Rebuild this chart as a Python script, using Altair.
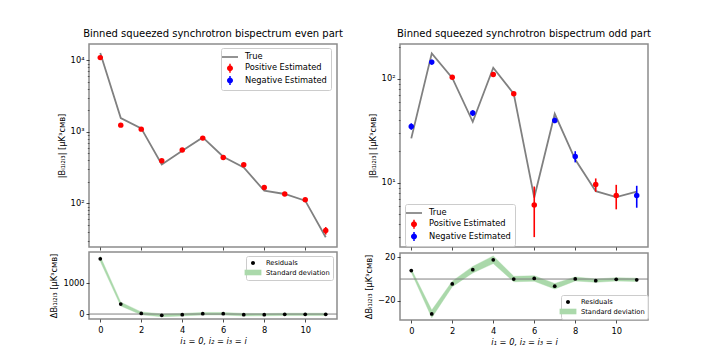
import altair as alt
import pandas as pd

# ---------------- data ----------------
idx = list(range(12))

# even part (all estimates positive)
true_even = [12650, 1560, 1115, 350, 545, 834, 448, 318, 150, 135, 109, 33.6]
est_even = [10900, 1240, 1090, 393, 555, 816, 438, 346, 167, 135, 112, 41.6]
err_even = [500, 60, 45, 15, 20, 25, 15, 12, 8, 6, 6, 5]
sign_even = ["pos"] * 12
res_even = [1780, 322, 21, -40, -20, 11, 11, -20, -20, -10, -10, -10]
std_even = [80, 60, 45, 45, 40, 40, 40, 40, 35, 35, 35, 35]

# odd part (absolute values, sign of the estimate)
true_odd = [26.7, 175.5, 102, 38.6, 127.6, 71.7, 7.2, 46, 16.7, 8.3, 7.28, 8.2]
est_odd = [34.8, 144.6, 103.5, 46.8, 110, 71.7, 6.1, 39.8, 17.9, 9.6, 7.55, 7.55]
err_odd = [2.5, 8, 4, 3, 5, 3, 3.1, 2.5, 2.2, 1.4, 2.0, 1.8]
sign_odd = ["neg", "neg", "pos", "neg", "pos", "pos", "pos", "neg", "neg", "pos", "pos", "neg"]
res_odd = [7.8, -32, -4.5, 8.6, 17.7, 0, 0.5, -6.6, 0.1, -1.5, -0.3, -0.7]
std_odd = [1.5, 3.5, 2.5, 3, 3.5, 2.5, 2.5, 2.5, 1.8, 1.5, 1.5, 1.5]

top_legend_labels = ["True", "Positive Estimated", "Negative Estimated"]
bot_legend_labels = ["Residuals", "Standard deviation"]

# ---------------- styling ----------------
FONT = "DejaVu Sans"
GRAY = "#808080"
GREEN = "#2ca02c"
GREEN_LIGHT = "#abd9ab"
X_DOMAIN = [-0.55, 11.55]
X_TICKS = [0, 2, 4, 6, 8, 10]
W = 248
H_TOP = 203
H_BOT = 67

SUP = {"0": "⁰", "1": "¹", "2": "²", "3": "³", "4": "⁴", "5": "⁵"}

# top legend shapes (symbolSize 100 -> unit = 5px)
LINE_PATH = "M-1.6,-0.17H1.6V0.17H-1.6Z"
ERRPT_PATH = ("M-0.6,0A0.6,0.6,0,1,1,0.6,0A0.6,0.6,0,1,1,-0.6,0Z"
              "M-0.15,-0.9H0.15V0.9H-0.15Z")
# bottom legend shapes (symbolSize 64 -> unit = 4px)
DOT_PATH = "M-0.5,0A0.5,0.5,0,1,1,0.5,0A0.5,0.5,0,1,1,-0.5,0Z"
RECT_PATH = "M-2.1,-0.7H2.1V0.7H-2.1Z"


def log_label_expr(values):
    parts = []
    for v in values:
        e = len(str(int(v))) - 1
        parts.append(f"datum.value == {v} ? '10{SUP[str(e)]}'")
    return " : ".join(parts) + " : ''"


def major_test(values):
    return " || ".join(f"datum.value == {v}" for v in values)


def legend_props(x, y, fs, rowpad, size, loff, pad):
    return dict(orient="none", legendX=x, legendY=y, title=None,
                labelFont=FONT, labelFontSize=fs, labelColor="black",
                fillColor="rgba(255,255,255,0.8)", strokeColor="#cccccc",
                cornerRadius=2, padding=pad, rowPadding=rowpad,
                symbolSize=size, symbolStrokeWidth=0, labelOffset=loff,
                symbolOpacity=1)


def top_panel(title, true_vals, est_vals, errs, signs, ydom, major, minor,
              lx, ly):
    df = pd.DataFrame({"i": idx, "true": true_vals, "est": est_vals,
                       "err": errs, "sign": signs})
    df["lo"] = df["est"] - df["err"]
    df["hi"] = df["est"] + df["err"]
    xscale = alt.Scale(domain=X_DOMAIN, nice=False, zero=False)
    yscale = alt.Scale(type="log", domain=ydom, nice=False)
    xaxis = alt.Axis(values=X_TICKS, labels=False, title=None, tickSize=3,
                     grid=False, domain=False)
    test = major_test(major)
    yaxis = alt.Axis(values=sorted(major + minor),
                     labelExpr=log_label_expr(major),
                     title="|Bᵢ₁ᵢ₂ᵢ₃| [μK³ᴄᴍʙ]", orient="left",
                     tickSize={"condition": {"test": test, "value": 3},
                               "value": 1.7},
                     tickWidth={"condition": {"test": test, "value": 0.7},
                                "value": 0.5},
                     grid=False, domain=False, labelPadding=2)
    base = alt.Chart(df)
    line = base.mark_line(color=GRAY, strokeWidth=1.8).encode(
        x=alt.X("i:Q", scale=xscale, axis=xaxis),
        y=alt.Y("true:Q", scale=yscale, axis=yaxis),
    )
    col = alt.Color("sign:N", scale=alt.Scale(domain=["pos", "neg"],
                                              range=["red", "blue"]),
                    legend=None)
    rules = base.mark_rule(strokeWidth=1.6).encode(
        x=alt.X("i:Q", scale=xscale),
        y=alt.Y("lo:Q", scale=yscale),
        y2="hi:Q",
        color=col,
    )
    pts = base.mark_circle(size=30, opacity=1).encode(
        x=alt.X("i:Q", scale=xscale),
        y=alt.Y("est:Q", scale=yscale),
        color=col,
    )
    leg_df = pd.DataFrame({"series": top_legend_labels,
                           "i": [None] * 3, "v": [None] * 3})
    leg_dom = top_legend_labels
    lp = legend_props(lx, ly, 8.3, 2.3, 100, 10, 4)
    leg = alt.Chart(leg_df).mark_point(filled=True, opacity=1).encode(
        x=alt.X("i:Q", scale=xscale),
        y=alt.Y("v:Q", scale=yscale),
        fill=alt.Fill("series:N",
                      scale=alt.Scale(domain=leg_dom,
                                      range=[GRAY, "red", "blue"]),
                      legend=alt.Legend(**lp)),
        shape=alt.Shape("series:N",
                        scale=alt.Scale(domain=leg_dom,
                                        range=[LINE_PATH, ERRPT_PATH,
                                               ERRPT_PATH]),
                        legend=alt.Legend(**lp)),
    )
    return alt.layer(line, rules, pts, leg).properties(
        width=W, height=H_TOP,
        title=alt.TitleParams(title, font=FONT, fontSize=10,
                              fontWeight="normal", offset=5))


def bottom_panel(res, std, ydom, yticks, lx, ly):
    df = pd.DataFrame({"i": idx, "res": res, "std": std})
    df["lo"] = df["res"] - df["std"]
    df["hi"] = df["res"] + df["std"]
    xscale = alt.Scale(domain=X_DOMAIN, nice=False, zero=False)
    yscale = alt.Scale(domain=ydom, nice=False, zero=False)
    base = alt.Chart(df)
    band = base.mark_area(color=GREEN, opacity=0.4, stroke=GREEN,
                          strokeOpacity=0.4, strokeWidth=1).encode(
        x=alt.X("i:Q", scale=xscale,
                axis=alt.Axis(values=X_TICKS, title="i₁ = 0, i₂ = i₃ = i",
                              titleFontStyle="italic", tickSize=3,
                              labelPadding=3, titlePadding=3, grid=False,
                              domain=False, labelAngle=0)),
        y=alt.Y("lo:Q", scale=yscale,
                axis=alt.Axis(values=yticks, format="d",
                              title="ΔBᵢ₁ᵢ₂ᵢ₃ [μK³ᴄᴍʙ]",
                              tickSize=3, grid=False, domain=False,
                              labelPadding=2)),
        y2="hi:Q",
    )
    zero = alt.Chart(pd.DataFrame({"z": [0]})).mark_rule(
        color=GRAY, strokeWidth=1).encode(y=alt.Y("z:Q", scale=yscale))
    pts = base.mark_circle(size=14, color="black", opacity=1).encode(
        x=alt.X("i:Q", scale=xscale),
        y=alt.Y("res:Q", scale=yscale),
    )
    leg_df = pd.DataFrame({"series": bot_legend_labels,
                           "i": [None] * 2, "v": [None] * 2})
    leg_dom = bot_legend_labels
    lp = legend_props(lx, ly, 6.7, 1.5, 64, 9, 3)
    leg = alt.Chart(leg_df).mark_point(filled=True, opacity=1).encode(
        x=alt.X("i:Q", scale=xscale),
        y=alt.Y("v:Q", scale=yscale),
        fill=alt.Fill("series:N",
                      scale=alt.Scale(domain=leg_dom,
                                      range=["black", GREEN_LIGHT]),
                      legend=alt.Legend(**lp)),
        shape=alt.Shape("series:N",
                        scale=alt.Scale(domain=leg_dom,
                                        range=[DOT_PATH, RECT_PATH]),
                        legend=alt.Legend(**lp)),
    )
    return alt.layer(band, zero, pts, leg).properties(width=W, height=H_BOT)


indep = dict(color="independent", fill="independent", shape="independent")

left = alt.vconcat(
    top_panel("Binned squeezed synchrotron bispectrum even part",
              true_even, est_even, err_even, sign_even,
              [24.5, 16900], [100, 1000, 10000],
              [30, 40, 50, 60, 70, 80, 90, 200, 300, 400, 500, 600, 700,
               800, 900, 2000, 3000, 4000, 5000, 6000, 7000, 8000, 9000],
              132, 4),
    bottom_panel(res_even, std_even, [-160, 2000], [0, 1000], 157, 4),
    spacing=-1,
).resolve_scale(**indep)

right = alt.vconcat(
    top_panel("Binned squeezed synchrotron bispectrum odd part",
              true_odd, est_odd, err_odd, sign_odd,
              [2.41, 216], [10, 100],
              [3, 4, 5, 6, 7, 8, 9, 20, 30, 40, 50, 60, 70, 80, 90, 200],
              5, 160),
    bottom_panel(res_odd, std_odd, [-37.6, 23.9], [-20, 0, 20], 161, 42),
    spacing=-1,
).resolve_scale(**indep)

chart = alt.hconcat(left, right, spacing=19).resolve_scale(
    **indep
).properties(
    padding={"left": 41, "top": 20, "right": 5, "bottom": 5}
).configure(
    font=FONT,
).configure_view(
    stroke="#8c8c8c", strokeWidth=1.5
).configure_axis(
    labelFont=FONT, labelFontSize=8.3, labelColor="black",
    titleFont=FONT, titleFontSize=8.3, titleFontWeight="normal",
    titleColor="black", tickColor="black", tickWidth=0.7,
)

chart.save("out.html", embed_options={"renderer": "svg", "actions": False})
